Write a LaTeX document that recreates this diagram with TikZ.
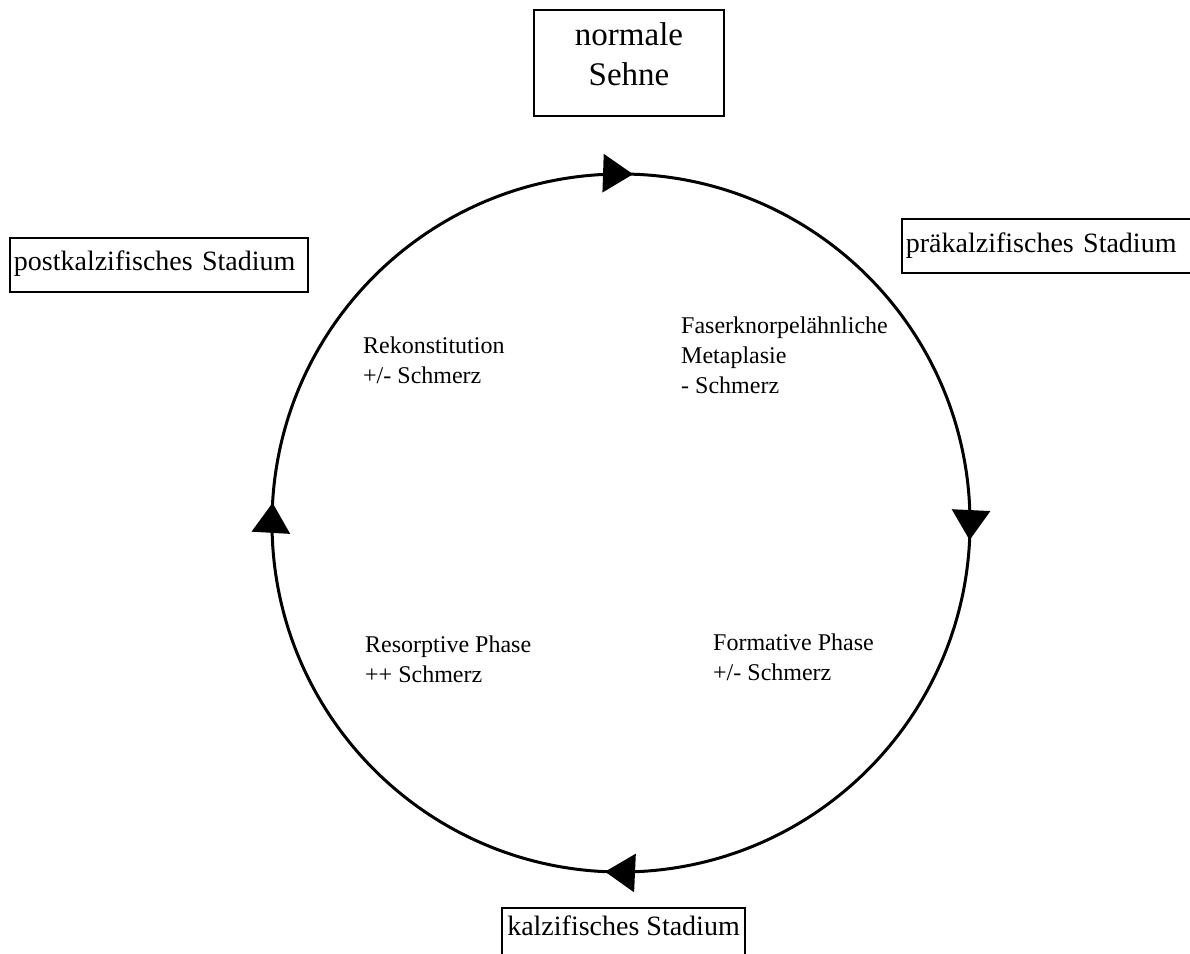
\documentclass[tikz,border=0pt]{standalone}
\usepackage{fontspec}
\setmainfont{Liberation Serif}
\usetikzlibrary{decorations.markings,arrows.meta}
\begin{document}
\begin{tikzpicture}[x=1pt,y=1pt,
  stadbox/.style={draw, line width=1.8pt, inner ysep=0pt, minimum height=54pt,
    font=\fontsize{28}{34}\selectfont},
  phasetext/.style={anchor=north west, inner sep=0pt, align=left,
    font=\fontsize{24}{30}\selectfont},
  tiparrow/.tip={Triangle[length=30pt,width=38pt]},
  cyc/.style={line width=3pt, postaction={decorate}, decoration={markings,
     mark=at position 0.0055 with {\arrow{tiparrow}},
     mark=at position 0.2578 with {\arrow{tiparrow}},
     mark=at position 0.5073 with {\arrow{tiparrow}},
     mark=at position 0.7592 with {\arrow{tiparrow}}}}]
\useasboundingbox (0,0) rectangle (1190,-953);
\fill[white] (0,0) rectangle (1190,-953);

% cycle
\coordinate (cc) at (621,-523);
\draw[cyc] ([yshift=349pt]cc) arc[start angle=90, end angle=-270, radius=349pt];

% top box
\node[draw, line width=1.8pt, minimum width=190pt, minimum height=106pt] (nsbox) at (629,-63) {};
\node[font=\fontsize{33}{40}\selectfont, align=center, inner sep=0pt] (ns) at (629,-53.8) {normale\\Sehne};

% stage boxes
\node[stadbox, anchor=west, inner xsep=4pt, text width=290pt, align=left,
      text height=18pt, text depth=6pt] (prae) at (901,-246) {präkalzifisches Stadium};
\node[stadbox, anchor=west, inner xsep=4pt, text width=290pt, align=left,
      text height=17pt, text depth=7pt] (post) at (9,-265) {postkalzifisches Stadium};
\node[stadbox, minimum width=243pt, inner xsep=0pt,
      text height=12pt, text depth=12pt] (kalz) at (623.5,-935) {kalzifisches Stadium};

% phase texts
\node[phasetext] (rekon) at (363,-336.6) {Rekonstitution\\+/- Schmerz};
\node[phasetext] (faser) at (681,-316.6) {Faserknorpelähnliche\\Metaplasie\\- Schmerz};
\node[phasetext] (resorp) at (365,-635.6) {Resorptive Phase\\++ Schmerz};
\node[phasetext] (format) at (713,-633.6) {Formative Phase\\+/- Schmerz};
\end{tikzpicture}
\end{document}
